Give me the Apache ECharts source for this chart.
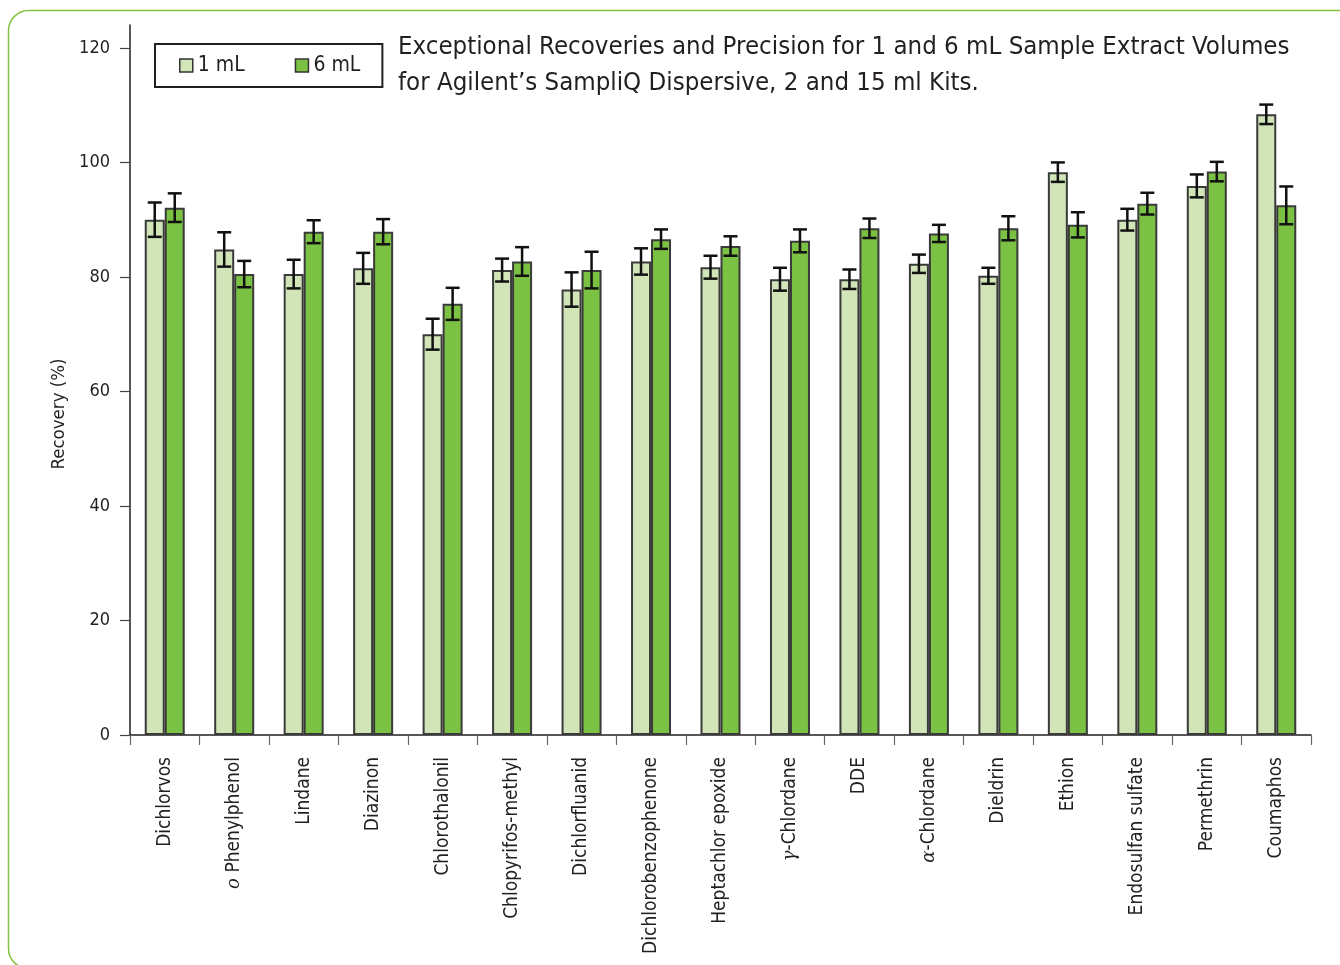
<!DOCTYPE html>
<html>
<head>
<meta charset="utf-8">
<title>SampliQ Dispersive recoveries</title>
<script src="https://cdn.jsdelivr.net/npm/echarts@6/dist/echarts.min.js"></script>
<style>
  html, body { margin: 0; padding: 0; background: #fff; }
  #chart { width: 1340px; height: 965px; }
</style>
</head>
<body>
<div id="chart"></div>
<script>
// Compounds on the x axis
const categories = [
  'Dichlorvos', 'o Phenylphenol', 'Lindane', 'Diazinon', 'Chlorothalonil',
  'Chlopyrifos-methyl', 'Dichlorfluanid', 'Dichlorobenzophenone', 'Heptachlor epoxide',
  'γ-Chlordane', 'DDE', 'α-Chlordane', 'Dieldrin', 'Ethion', 'Endosulfan sulfate',
  'Permethrin', 'Coumaphos'
];

// Mean recovery (%) and its error for the 1 mL extract volume
const recovery1mL = [90.0, 84.8, 80.5, 81.5, 70.0, 81.2, 77.8, 82.7, 81.7, 79.6, 79.6, 82.3, 80.2, 98.3, 90.0, 95.9, 108.4];
const error1mL    = [3.0, 3.0, 2.5, 2.7, 2.7, 2.0, 3.0, 2.3, 2.0, 2.0, 1.7, 1.6, 1.4, 1.7, 1.9, 2.0, 1.7];

// Mean recovery (%) and its error for the 6 mL extract volume
const recovery6mL = [92.1, 80.5, 87.9, 87.9, 75.3, 82.7, 81.2, 86.6, 85.4, 86.3, 88.5, 87.6, 88.5, 89.1, 92.8, 98.4, 92.5];
const error6mL    = [2.5, 2.3, 2.0, 2.2, 2.8, 2.5, 3.2, 1.7, 1.7, 2.0, 1.7, 1.5, 2.1, 2.2, 1.9, 1.7, 3.3];

// Y axis tick values
const yTicks = [0, 20, 40, 60, 80, 100, 120];

const seriesNames = ['1 mL', '6 mL'];
const titleLines = [
  'Exceptional Recoveries and Precision for 1 and 6 mL Sample Extract Volumes',
  'for Agilent\u2019s SampliQ Dispersive, 2 and 15 ml Kits.'
];

const FONT = '"DejaVu Sans Condensed", "Liberation Sans", sans-serif';
const LIGHT = '#d1e5b9';
const DARK = '#7bc143';
const BAR_W = 20;

// Italic serif prefixes (o-, γ-, α-) in the compound names
function formatCategory(name) {
  const m = name.match(/^(o|γ|α)([ -])(.*)$/);
  if (m) return '{it|' + m[1] + '}' + m[2] + m[3];
  return name;
}

function errorData(means, errs) {
  return means.map((v, i) => [i, v, errs[i]]);
}

function errorRenderer(side) {
  return function (params, api) {
    const idx = api.value(0);
    const mean = api.value(1);
    const err = api.value(2);
    const dx = side * BAR_W / 2;
    const top = api.coord([idx, mean + err]);
    const bot = api.coord([idx, mean - err]);
    const x = top[0] + dx;
    const cap = 7;
    const style = { stroke: '#111', lineWidth: 2.5 };
    return {
      type: 'group',
      children: [
        { type: 'line', shape: { x1: x, y1: top[1], x2: x, y2: bot[1] }, style },
        { type: 'line', shape: { x1: x - cap, y1: top[1], x2: x + cap, y2: top[1] }, style },
        { type: 'line', shape: { x1: x - cap, y1: bot[1], x2: x + cap, y2: bot[1] }, style }
      ]
    };
  };
}

const chart = echarts.init(document.getElementById('chart'), null, { renderer: 'canvas' });

chart.setOption({
  backgroundColor: '#fff',
  animation: false,
  textStyle: { fontFamily: FONT },
  title: {
    text: titleLines.join('\n'),
    left: 398,
    top: 29,
    padding: 0,
    textStyle: { fontFamily: FONT, fontSize: 25.6, fontWeight: 'normal', color: '#231f20', lineHeight: 36 }
  },
  legend: {
    data: seriesNames,
    left: 155,
    top: 44,
    orient: 'horizontal',
    padding: [11, 22, 11, 24],
    itemGap: 50,
    itemWidth: 13,
    itemHeight: 13,
    icon: 'rect',
    borderColor: '#231f20',
    borderWidth: 2,
    itemStyle: { borderColor: '#333', borderWidth: 1.5 },
    textStyle: { fontFamily: FONT, fontSize: 21, color: '#231f20' }
  },
  grid: { left: 130, right: 29, top: 25, bottom: 230, containLabel: false, outerBoundsMode: 'none' },
  xAxis: {
    type: 'category',
    data: categories,
    axisLine: { lineStyle: { color: '#231f20', width: 1.5 } },
    axisTick: { show: true, length: 10, lineStyle: { color: '#666', width: 1.2 } },
    axisLabel: {
      rotate: 90,
      interval: 0,
      margin: 22,
      fontFamily: FONT,
      fontSize: 19,
      color: '#231f20',
      formatter: formatCategory,
      rich: {
        it: { fontFamily: '"DejaVu Serif", "Liberation Serif", serif', fontStyle: 'italic', fontSize: 18, color: '#231f20' }
      }
    },
    splitLine: { show: false }
  },
  yAxis: {
    type: 'value',
    min: 0,
    max: 124,
    interval: 20,
    axisLine: { show: true, lineStyle: { color: '#231f20', width: 1.5 } },
    axisTick: { show: true, length: 10, customValues: yTicks, lineStyle: { color: '#444', width: 1.2 } },
    axisLabel: { customValues: yTicks, margin: 20, fontFamily: FONT, fontSize: 18, color: '#231f20' },
    splitLine: { show: false }
  },
  graphic: [
    {
      type: 'rect',
      shape: { x: 8.5, y: 10.5, width: 1400, height: 958, r: 20 },
      style: { fill: 'none', stroke: '#82c341', lineWidth: 1.5 },
      silent: true,
      z: -1
    },
    {
      type: 'text',
      x: 59,
      y: 414,
      rotation: Math.PI / 2,
      style: {
        text: 'Recovery (%)',
        font: '18.5px ' + FONT,
        fill: '#231f20',
        align: 'center',
        verticalAlign: 'middle'
      }
    }
  ],
  series: [
    {
      name: seriesNames[0],
      type: 'bar',
      data: recovery1mL,
      barWidth: BAR_W,
      barGap: '0%',
      itemStyle: { color: LIGHT, borderColor: '#3a3a3a', borderWidth: 2 }
    },
    {
      name: seriesNames[1],
      type: 'bar',
      data: recovery6mL,
      barWidth: BAR_W,
      barGap: '0%',
      itemStyle: { color: DARK, borderColor: '#3a3a3a', borderWidth: 2 }
    },
    {
      name: seriesNames[0] + ' error',
      type: 'custom',
      data: errorData(recovery1mL, error1mL),
      encode: { x: 0, y: 1 },
      renderItem: errorRenderer(-1),
      z: 10
    },
    {
      name: seriesNames[1] + ' error',
      type: 'custom',
      data: errorData(recovery6mL, error6mL),
      encode: { x: 0, y: 1 },
      renderItem: errorRenderer(1),
      z: 10
    }
  ]
});
</script>
</body>
</html>
